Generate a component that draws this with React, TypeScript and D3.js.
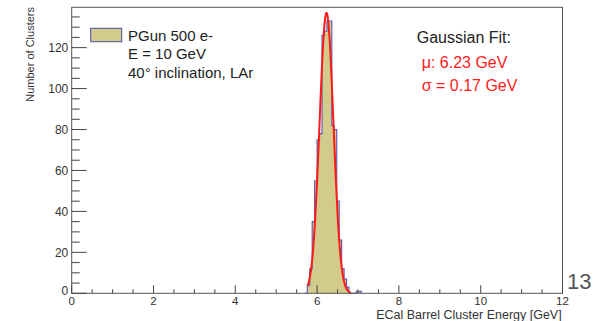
import React from "react";
import * as d3 from "d3";

// ---- data ----
const binLowEdges = [5.70, 5.76, 5.82, 5.88, 5.94, 6.00, 6.06, 6.12, 6.18, 6.24, 6.30, 6.36, 6.42, 6.48, 6.54, 6.60, 6.66, 6.72, 6.78, 6.84, 6.90, 6.96, 7.02];
const binCounts = [0, 4, 12, 35, 55, 75, 78, 126, 128, 133, 133, 82, 80, 45, 26, 12, 7, 3, 0, 0, 0, 1, 1];
const binWidth = 0.06;

// Gaussian fit curve
const fitE = [5.77, 5.80, 5.85, 5.90, 5.95, 6.00, 6.05, 6.10, 6.15, 6.20, 6.23, 6.25, 6.30, 6.35, 6.40, 6.45, 6.50, 6.55, 6.60, 6.65, 6.70, 6.75, 6.80, 6.83];
const fitN = [3.5, 5.6, 11.3, 20.8, 35.3, 54.9, 78.2, 102.3, 122.6, 134.9, 137, 136.1, 125.9, 106.8, 83.1, 59.3, 38.8, 23.3, 12.8, 6.5, 3.0, 1.3, 0.5, 0.3];

const xMajorTicks = [0, 2, 4, 6, 8, 10, 12];
const yMajorTicks = [0, 20, 40, 60, 80, 100, 120];

const legendLines = ["PGun 500 e-", "E = 10 GeV", "40° inclination, LAr"];
const fitTitle = "Gaussian Fit:";
const fitMu = "μ: 6.23 GeV";
const fitSigma = "σ = 0.17 GeV";
const xTitle = "ECal Barrel Cluster Energy [GeV]";
const yTitle = "Number of Clusters";
const pageNumber = "13";

const FONT = "'Liberation Sans', Arial, Helvetica, sans-serif";

export default function App() {
  const W = 593, H = 321;
  const x = d3.scaleLinear().domain([0, 12]).range([71.7, 562.5]);
  const y = d3.scaleLinear().domain([0, 139.7]).range([293.3, 7.3]);

  const xMinor = d3.range(0, 12.001, 0.5).filter((v) => !xMajorTicks.includes(v));
  const yMinor = d3.range(0, 139, 5).filter((v) => !yMajorTicks.includes(v));

  const pts: [number, number][] = [[binLowEdges[0], 0]];
  binLowEdges.forEach((lo, i) => {
    pts.push([lo, binCounts[i]]);
    pts.push([lo + binWidth, binCounts[i]]);
  });
  pts.push([binLowEdges[binLowEdges.length - 1] + binWidth, 0]);
  const histLine = d3.line<[number, number]>().x((d) => x(d[0])).y((d) => y(d[1]));
  const histPath = histLine(pts) || "";

  const fitLine = d3
    .line<number>()
    .x((_, i) => x(fitE[i]))
    .y((d) => y(d))
    .curve(d3.curveMonotoneX);
  const fitPath = fitLine(fitN) || "";

  const axisColor = "#444";
  const textColor = "#333";

  return (
    <svg
      width={W}
      height={H}
      style={{ position: "absolute", left: 0, top: 0, background: "#fff" }}
      fontFamily={FONT}
    >
      <rect x={0} y={0} width={W} height={H} fill="#fff" />
      {/* histogram */}
      <path d={histPath + "Z"} fill="#d2cb8b" stroke="none" />
      <path d={histPath} fill="none" stroke="#5555b5" strokeWidth={1.1} />
      {/* fit */}
      <path d={fitPath} fill="none" stroke="#ff1a1a" strokeWidth={2} strokeLinejoin="round" />

      {/* frame */}
      <rect
        x={x(0)}
        y={y(139.7)}
        width={x(12) - x(0)}
        height={y(0) - y(139.7)}
        fill="none"
        stroke="#555"
        strokeWidth={1}
      />

      {/* x ticks */}
      {xMajorTicks.map((t) => (
        <g key={"xm" + t}>
          <line x1={x(t)} x2={x(t)} y1={y(0)} y2={y(0) - 8} stroke={axisColor} />
          <text x={x(t)} y={304.8} fontSize={11.5} textAnchor="middle" fill={textColor}>
            {t}
          </text>
        </g>
      ))}
      {xMinor.map((t) => (
        <line key={"xn" + t} x1={x(t)} x2={x(t)} y1={y(0)} y2={y(0) - 4} stroke={axisColor} />
      ))}

      {/* y ticks */}
      {yMajorTicks.map((t) => (
        <g key={"ym" + t}>
          <line x1={x(0)} x2={x(0) + 15} y1={y(t)} y2={y(t)} stroke={axisColor} />
          <text
            x={68.3}
            y={t === 0 ? y(t) + 1.5 : y(t) + 4.3}
            fontSize={12}
            textAnchor="end"
            fill={textColor}
          >
            {t}
          </text>
        </g>
      ))}
      {yMinor.map((t) => (
        <line key={"yn" + t} x1={x(0)} x2={x(0) + 8} y1={y(t)} y2={y(t)} stroke={axisColor} />
      ))}

      {/* axis titles */}
      <text x={561.7} y={319} fontSize={12.5} textAnchor="end" fill={textColor}>
        {xTitle}
      </text>
      <text
        transform={`translate(34,7) rotate(-90)`}
        fontSize={11}
        textAnchor="end"
        fill={textColor}
      >
        {yTitle}
      </text>

      {/* legend */}
      <rect x={90.7} y={28.3} width={31} height={13.4} fill="#d2cb8b" stroke="#4a4aa8" strokeWidth={1} />
      {legendLines.map((s, i) => (
        <text key={s} x={128} y={40.5 + i * 18.7} fontSize={15} fill="#222">
          {s}
        </text>
      ))}

      {/* fit box text */}
      <text x={416.7} y={43} fontSize={16} fill="#222">
        {fitTitle}
      </text>
      <text x={421.7} y={68} fontSize={16} fill="#ff1a1a">
        {fitMu}
      </text>
      <text x={421.7} y={91.4} fontSize={16} fill="#ff1a1a">
        {fitSigma}
      </text>

      {/* page number */}
      <text x={567} y={289} fontSize={22} fill="#555">
        {pageNumber}
      </text>
    </svg>
  );
}
